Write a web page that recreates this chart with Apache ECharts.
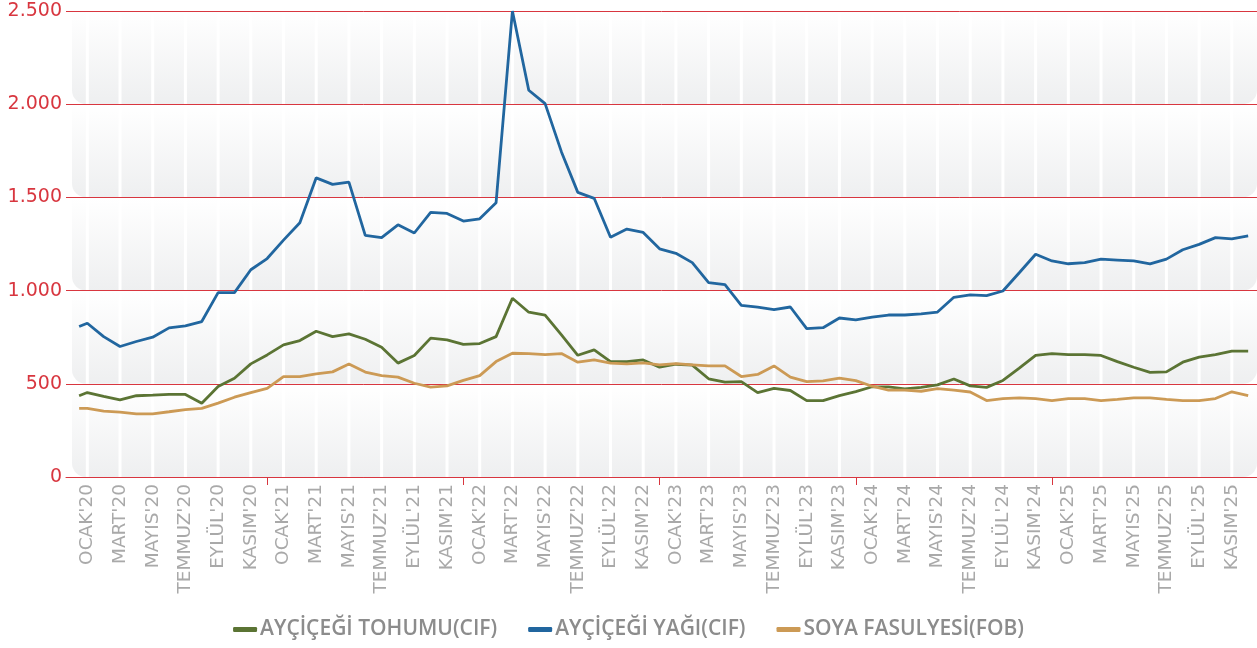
<!DOCTYPE html>
<html>
<head>
<meta charset="utf-8">
<script src="https://cdn.jsdelivr.net/npm/echarts@6/dist/echarts.min.js"></script>
<style>
html,body{margin:0;padding:0;background:#ffffff;}
#chart{width:1257px;height:648px;}
</style>
</head>
<body>
<div id="chart"></div>
<script>
// ---- data ----
const monthNames = ['OCAK','ŞUBAT','MART','NİSAN','MAYIS','HAZİRAN','TEMMUZ','AĞUSTOS','EYLÜL','EKİM','KASIM','ARALIK'];
const years = ['20','21','22','23','24','25'];
// first value is a half-month lead-in point before OCAK'20
const leadIn = -0.5;

const sunflowerSeed = [436,
  453,432,414,436,439,443,443,396,485,530,607,655,
  709,732,782,753,768,739,696,611,652,745,736,712,
  716,753,959,884,869,762,653,682,619,619,628,589,
  605,600,527,509,512,453,475,464,410,410,437,458,
  484,484,473,481,494,526,489,481,518,584,652,662,
  657,657,652,619,589,561,564,616,643,657,675,675];

const sunflowerOil = [807,
  825,753,700,727,750,800,811,834,989,989,1112,1172,
  1271,1364,1605,1570,1582,1296,1284,1353,1309,1420,1414,1373,
  1385,1471,2500,2075,2003,1744,1527,1495,1286,1330,1312,1224,
  1200,1150,1043,1032,921,911,898,912,796,801,853,843,
  858,869,869,875,885,964,977,973,998,1096,1195,1159,
  1144,1150,1169,1164,1159,1143,1169,1219,1248,1284,1278,1293];

const soybean = [368,
  368,353,348,339,339,350,362,368,396,428,453,476,
  539,539,553,564,606,563,544,536,503,482,489,518,
  544,619,664,662,657,662,616,628,611,607,612,602,
  608,602,596,596,539,550,596,536,512,516,530,517,
  487,466,466,460,474,466,456,410,420,424,420,410,
  421,421,410,417,425,425,416,410,410,421,457,437];

const yTicks = [0,500,1000,1500,2000,2500];
const seriesNames = ['AYÇİÇEĞİ TOHUMU(CIF)','AYÇİÇEĞİ YAĞI(CIF)','SOYA FASULYESİ(FOB)'];

// ---- derived ----
const monthLabels = [];
years.forEach(y => monthNames.forEach(m => monthLabels.push(m + "'" + y)));
const monthIdx = monthLabels.map((_, i) => i);
const xPos = [leadIn].concat(monthIdx);
const labelIdx = monthIdx.filter(i => i % 2 === 0);
const yearEndIdx = monthIdx.filter(i => i % 12 === 11 && i < monthLabels.length - 1);
const pair = arr => arr.map((v, i) => [xPos[i], v]);
const bands = yTicks.slice(0, -1).map((lo, i) => [0, lo, yTicks[i + 1]]);

const RED = '#d8363f';
const chart = echarts.init(document.getElementById('chart'));

const bandGrad = new echarts.graphic.LinearGradient(0, 0, 0, 1, [
  {offset: 0, color: '#ffffff'},
  {offset: 1, color: '#eeeff0'}
]);

chart.setOption({
  animation: false,
  backgroundColor: '#ffffff',
  grid: {left: 66, right: 0, top: 11, bottom: 171, containLabel: false},
  legend: {
    bottom: 3,
    left: 'center',
    icon: 'roundRect',
    itemWidth: 24,
    itemHeight: 5,
    itemGap: 31,
    textStyle: {color: '#8c8c8c', fontSize: 21, fontWeight: 600, fontFamily: 'Open Sans', padding: [0, 0, 0, -2]},
    data: seriesNames
  },
  xAxis: {
    type: 'value',
    min: -1.303,
    max: 71.54,
    axisLine: {show: true, lineStyle: {color: RED, width: 1}},
    axisTick: {show: true, customValues: yearEndIdx, length: 8, lineStyle: {color: RED, width: 1}},
    splitLine: {show: false},
    axisLabel: {
      customValues: labelIdx,
      rotate: 90,
      margin: 7,
      color: '#a9a9a9',
      fontSize: 18.5,
      fontFamily: 'DejaVu Sans',
      formatter: v => monthLabels[Math.round(v)] || ''
    }
  },
  yAxis: {
    type: 'value',
    min: 0,
    max: 2500,
    interval: 500,
    axisLine: {show: false},
    axisTick: {show: false},
    splitLine: {show: true, lineStyle: {color: RED, width: 1}},
    axisLabel: {
      margin: 4,
      color: RED,
      fontSize: 19,
      fontFamily: 'DejaVu Sans',
      formatter: v => String(v).replace(/\B(?=(\d{3})+(?!\d))/g, '.')
    }
  },
  series: [
    {
      type: 'custom',
      silent: true,
      z: -3,
      data: bands,
      encode: {x: 0, y: [1, 2]},
      renderItem: (params, api) => {
        const cs = params.coordSys;
        const yTop = api.coord([0, api.value(2)])[1];
        const yBot = api.coord([0, api.value(1)])[1];
        return {
          type: 'rect',
          shape: {x: cs.x + 6, y: yTop + 1, width: cs.width - 6, height: yBot - yTop - 1, r: [0, 0, 14, 14]},
          style: {fill: bandGrad}
        };
      }
    },
    {
      type: 'custom',
      silent: true,
      z: -2,
      data: labelIdx.map(i => [i, 0]),
      encode: {x: 0, y: 1},
      renderItem: (params, api) => {
        const cs = params.coordSys;
        const x = api.coord([api.value(0), 0])[0];
        return {
          type: 'rect',
          shape: {x: x - 1.5, y: cs.y, width: 3, height: cs.height},
          style: {fill: '#ffffff'}
        };
      }
    },
    {
      name: seriesNames[0], type: 'line', data: pair(sunflowerSeed),
      showSymbol: false, symbol: 'none', color: '#5b7434',
      lineStyle: {width: 2.8, color: '#5b7434'}
    },
    {
      name: seriesNames[1], type: 'line', data: pair(sunflowerOil),
      showSymbol: false, symbol: 'none', color: '#21669f',
      lineStyle: {width: 2.8, color: '#21669f'}
    },
    {
      name: seriesNames[2], type: 'line', data: pair(soybean),
      showSymbol: false, symbol: 'none', color: '#cc9a55',
      lineStyle: {width: 2.8, color: '#cc9a55'}
    }
  ]
});
</script>
</body>
</html>
